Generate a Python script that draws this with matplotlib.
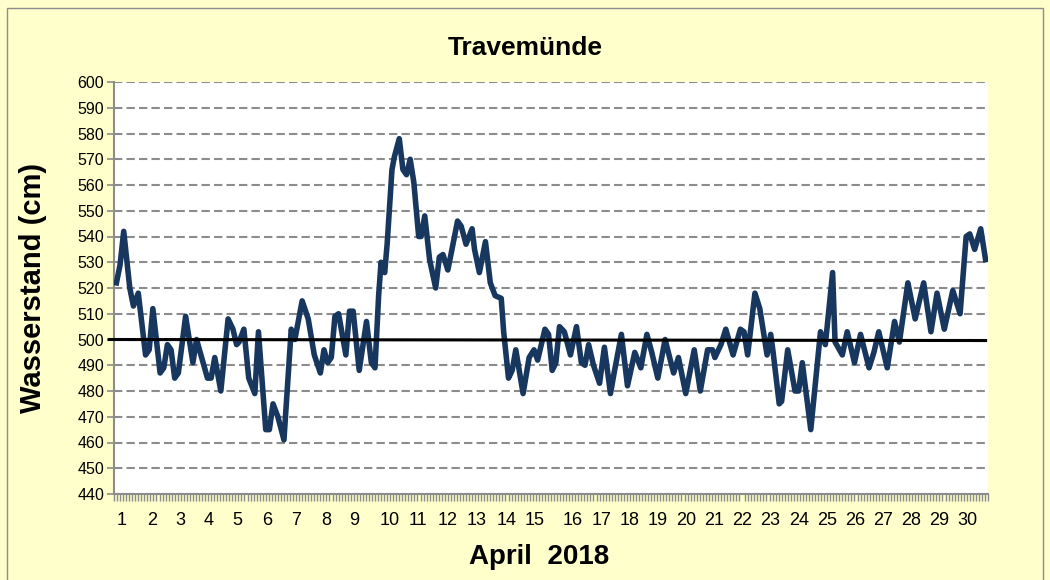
import matplotlib
matplotlib.use("Agg")
import matplotlib.pyplot as plt
from matplotlib.patches import Rectangle
from matplotlib.ticker import MultipleLocator

# hours since 1 April 2018 00:00 and water level (cm)
hours = [2, 5, 8, 13, 16, 20, 26, 29, 32, 38, 41, 44, 47, 50, 53, 59, 65, 68, 77, 80, 83, 88, 94, 98, 101,
         103, 107, 111, 116, 119, 125, 128, 131, 135, 140, 146, 149, 155, 160, 165, 170, 173, 176, 179, 182,
         185, 191, 194, 197, 202,
         208, 212, 215, 218, 220, 223, 225, 229, 231, 235, 238, 241, 244, 247, 251, 253, 256, 260, 265, 268,
         271, 275, 278, 283, 286, 290, 295, 297, 301, 306,
         310, 314, 319, 321, 325, 328, 331, 337, 342, 346, 349, 355, 358, 361, 364, 367, 371, 376, 381, 385,
         388, 391, 395, 400, 404, 409,
         412, 418, 423, 429, 434, 439, 443, 448, 454, 461, 465, 471, 478, 483, 489, 493, 495, 500, 504, 510,
         516, 519, 522, 528, 532, 538, 541, 543, 548, 550, 555, 561, 564, 567, 574, 582, 586, 592, 594, 600,
         604, 610,
         615, 622, 626, 630, 637, 643, 647, 654, 660, 667, 673, 678, 684, 691, 697, 702, 705, 709, 714, 718]
levels = [522, 529, 542, 520, 513, 518, 494, 496, 512, 487, 489, 498, 496, 485, 487, 509, 491, 500, 485, 485,
          493, 480, 508, 504, 498,
          499, 504, 485, 479, 503, 465, 465, 475, 470, 461, 504, 500, 515, 508, 494, 487, 496, 491, 493, 509,
          510, 494, 511, 511, 488,
          507, 491, 489, 517, 530, 526, 537, 566, 571, 578, 566, 564, 570, 561, 540, 540, 548, 531, 520, 532,
          533, 527, 534, 546, 544, 537, 543, 535, 526, 538,
          522, 517, 516, 503, 485, 488, 496, 479, 493, 496, 492, 504, 502, 488, 491, 505, 503, 494, 505, 491,
          490, 498, 490, 483, 497, 479,
          487, 502, 482, 495, 489, 502, 495, 485, 500, 487, 493, 479, 496, 480, 496, 496, 493, 498, 504, 494,
          504, 503, 494, 518, 512, 494, 502, 495, 475, 476, 496, 480, 480, 491, 465, 503, 498, 526, 499, 494,
          503, 491,
          502, 489, 495, 503, 489, 507, 499, 522, 508, 522, 503, 518, 504, 519, 510, 540, 541, 535, 543, 531]

reference_level = 500
day_labels = [str(d) for d in range(1, 31)]
day_label_hours = [6.3, 31.1, 54.4, 78.3, 101.7, 126.5, 149.9, 174.6, 197.7, 227.4, 250.4, 275.1, 299.0,
                   323.8, 346.8, 378.1, 401.4, 424.6, 447.8, 471.0, 494.3, 517.5, 540.7, 564.0, 587.2,
                   610.4, 633.6, 656.9, 680.1, 703.4]

plt.rcParams["font.family"] = ["Liberation Sans", "DejaVu Sans"]

fig = plt.figure(figsize=(10.5, 5.8), dpi=100)
fig.patch.set_facecolor("#FFFFCC")
fig.patches.append(Rectangle((0.007, -0.01), 0.986, 0.997, transform=fig.transFigure,
                             fill=False, edgecolor="#8C8C8C", linewidth=1.0))

ax = fig.add_axes([114 / 1050, 1 - 494 / 580, 874 / 1050, 412 / 580])
ax.set_facecolor("white")

ax.plot(hours, levels, color="#17375E", linewidth=4.0, solid_joinstyle="round", zorder=3)
ax.plot([-4, 718], [reference_level, reference_level - 0.4], color="black", linewidth=2.2,
        zorder=4, clip_on=False)

ax.set_xlim(0, 720)
ax.set_ylim(440, 600)
ax.yaxis.set_major_locator(MultipleLocator(10))
ax.grid(axis="y", color="#8C8C8C", linestyle=(0, (4, 2)), linewidth=1.5)
ax.set_axisbelow(True)

for side in ["top", "right"]:
    ax.spines[side].set_visible(False)
for side in ["left", "bottom"]:
    ax.spines[side].set_color("#8C8C8C")
    ax.spines[side].set_linewidth(1.5)

ax.set_xticks(day_label_hours)
ax.set_xticklabels(day_labels)
ax.xaxis.set_minor_locator(MultipleLocator(2.5))
ax.tick_params(axis="x", which="major", length=0, pad=13, labelsize=13)
ax.tick_params(axis="x", which="minor", length=5, width=1, color="#8C8C8C")
ax.tick_params(axis="y", length=5, width=1.2, color="#8C8C8C", labelsize=11.5, pad=2)

fig.text(525 / 1050, 1 - 48 / 580, "Travemünde", fontsize=19, fontweight="bold",
         ha="center", va="center")
fig.text(33 / 1050, 1 - 288 / 580, "Wasserstand (cm)", fontsize=21, fontweight="bold",
         rotation=90, ha="center", va="center")
fig.text(539 / 1050, 1 - 557 / 580, "April  2018", fontsize=20, fontweight="bold",
         ha="center", va="center")

fig.savefig("out.png", dpi=100, facecolor=fig.get_facecolor())
